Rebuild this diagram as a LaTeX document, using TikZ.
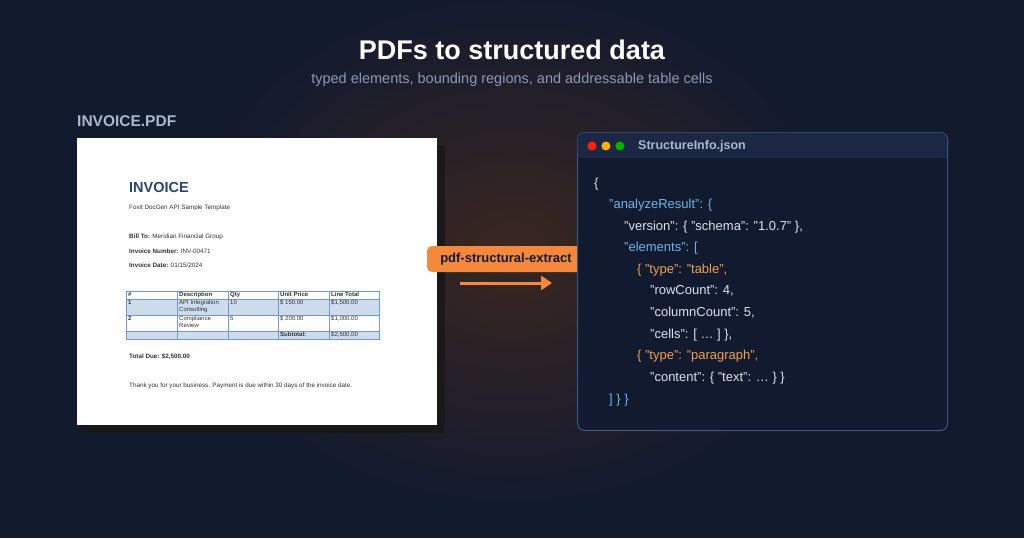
\documentclass[tikz,border=0pt]{standalone}
\usepackage{fontspec}
\setmainfont{Liberation Sans}
\usepackage{xcolor}
\usetikzlibrary{positioning, calc, arrows.meta}
\definecolor{bgDark}{HTML}{121A2E}
\definecolor{bgGlow}{HTML}{3A2620}
\definecolor{labelGray}{HTML}{A9B8D0}
\definecolor{subGray}{HTML}{8A9AB8}
\definecolor{invoiceBlue}{HTML}{2A4570}
\definecolor{cellBlue}{HTML}{CFDCEE}
\definecolor{gridBlue}{HTML}{6E9AD0}
\definecolor{extractOrange}{HTML}{F5883A}
\definecolor{panelFill}{HTML}{111A2E}
\definecolor{panelBar}{HTML}{1C2843}
\definecolor{panelBorder}{HTML}{3A5580}
\definecolor{keyBlue}{HTML}{6CB6E8}
\definecolor{codeLight}{HTML}{DDE3EC}
\definecolor{typeOrange}{HTML}{F0A050}
\definecolor{docText}{HTML}{333333}

\begin{document}
\begin{tikzpicture}[x=1pt, y=-1pt]
% style: codeLine
\tikzstyle{codeLine}=[anchor=west,inner sep=0pt,font=\fontsize{13}{15}\selectfont]
% style: docLine
\tikzstyle{docLine}=[anchor=west,inner sep=0pt,text=docText,font=\fontsize{6.3}{7}\selectfont]
% style: cellText
\tikzstyle{cellText}=[anchor=north west,inner sep=0pt,text=docText,align=left,font=\fontsize{6}{6.5}\selectfont]
% style: trafficDot
\tikzstyle{trafficDot}=[circle,minimum size=9pt,inner sep=0pt]

% background
\useasboundingbox (0,0) rectangle (1024,538);
\fill[bgDark] (0,0) rectangle (1024,538);
\begin{scope}
\clip (0,0) rectangle (1024,538);
\shade[inner color=bgGlow, outer color=bgDark] (512,250) ellipse (330 and 260);
\end{scope}

% node: title
\node[text=white,font=\bfseries\fontsize{27}{30}\selectfont] (title) at (512,50) {PDFs to structured data};
% node: subtitle
\node[text=subGray,font=\fontsize{14.5}{17}\selectfont] (subtitle) at (512,80) {typed elements, bounding regions, and addressable table cells};

% node group: invoice_group
% node: invoice_label
\node[anchor=west,inner sep=0pt,text=labelGray,font=\bfseries\fontsize{15.5}{18}\selectfont] (invoice_label) at (77,121) {INVOICE.PDF};
\fill[black!90] (85,146) rectangle (445,433);
% node: invoice_page
\node[fill=white,minimum width=360pt,minimum height=287pt,inner sep=0pt,anchor=north west] (invoice_page) at (77,138) {};
% node: invoice_heading
\node[anchor=west,inner sep=0pt,text=invoiceBlue,font=\bfseries\fontsize{14.5}{16}\selectfont] (invoice_heading) at (129,188) {INVOICE};
\node[docLine] (invoice_template) at (129,208) {Foxit DocGen API Sample Template};
\node[docLine] (invoice_bill) at (129,237) {\textbf{Bill To:} Meridian Financial Group};
\node[docLine] (invoice_number) at (129,251) {\textbf{Invoice Number:} INV-00471};
\node[docLine] (invoice_date) at (129,265) {\textbf{Invoice Date:} 01/15/2024};
% table
\fill[cellBlue] (126,299) rectangle (379,315);
\fill[cellBlue] (126,331) rectangle (379,339);
\draw[gridBlue,line width=0.6pt] (126,291) rectangle (379,339);
\draw[gridBlue,line width=1pt] (126,299) -- (379,299);
\foreach \y in {315,331} \draw[gridBlue,line width=0.6pt] (126,\y) -- (379,\y);
\foreach \x in {177,228,278,329} \draw[gridBlue,line width=0.6pt] (\x,291) -- (\x,339);
\node[cellText,font=\bfseries\fontsize{6}{6.5}\selectfont] (cell_h1) at (128,292) {\#};
\node[cellText,font=\bfseries\fontsize{6}{6.5}\selectfont] (cell_h2) at (179,292) {Description};
\node[cellText,font=\bfseries\fontsize{6}{6.5}\selectfont] (cell_h3) at (230,292) {Qty};
\node[cellText,font=\bfseries\fontsize{6}{6.5}\selectfont] (cell_h4) at (280,292) {Unit Price};
\node[cellText,font=\bfseries\fontsize{6}{6.5}\selectfont] (cell_h5) at (331,292) {Line Total};
\node[cellText,font=\bfseries\fontsize{6}{6.5}\selectfont] (cell_11) at (128,300) {1};
\node[cellText] (cell_12) at (179,300) {API Integration\\Consulting};
\node[cellText] (cell_13) at (230,300) {10};
\node[cellText] (cell_14) at (280,300) {\$ 150.00};
\node[cellText] (cell_15) at (331,300) {\$1,500.00};
\node[cellText,font=\bfseries\fontsize{6}{6.5}\selectfont] (cell_21) at (128,316) {2};
\node[cellText] (cell_22) at (179,316) {Compliance\\Review};
\node[cellText] (cell_23) at (230,316) {5};
\node[cellText] (cell_24) at (280,316) {\$ 200.00};
\node[cellText] (cell_25) at (331,316) {\$1,000.00};
\node[cellText,font=\bfseries\fontsize{6}{6.5}\selectfont] (cell_34) at (280,332) {Subtotal:};
\node[cellText] (cell_35) at (331,332) {\$2,500.00};
\node[docLine,font=\bfseries\fontsize{6.3}{7}\selectfont] (invoice_total) at (129,357) {Total Due: \$2,500.00};
\node[docLine] (invoice_thanks) at (129,386) {Thank you for your business. Payment is due within 30 days of the invoice date.};
% end of node group: invoice_group

% node group: extract_group
\coordinate (arrow_start) at (460,283);
\coordinate (arrow_end) at (552,283);
% node: extract_label
\node[fill=extractOrange,rounded corners=5pt,minimum width=158pt,minimum height=26pt,inner sep=0pt,text=bgDark,font=\bfseries\fontsize{13}{15}\selectfont] (extract_label) at (506,259) {pdf-structural-extract};
% end of node group: extract_group

% node group: json_group
% node: json_panel
\node[draw=panelBorder,fill=panelFill,line width=1pt,rounded corners=7pt,minimum width=370pt,minimum height=298pt,inner sep=0pt,anchor=north west] (json_panel) at (577,132) {};
\fill[panelBar,rounded corners=7pt] (577.5,132.5) rectangle (946.5,158);
\fill[panelBar] (577.5,150) rectangle (946.5,158);
\node[trafficDot,fill=red!75!orange] (dot_red) at (592,146) {};
\node[trafficDot,fill=orange!60!yellow,right=4.5pt of dot_red] (dot_yellow) {};
\node[trafficDot,fill=green!70!black,right=4.5pt of dot_yellow] (dot_green) {};
% node: json_title
\node[anchor=west,inner sep=0pt,text=labelGray,font=\bfseries\fontsize{12.5}{15}\selectfont] (json_title) at (638,146) {StructureInfo.json};
\node[codeLine,text=codeLight] (code_1) at (594,184) {\{};
\node[codeLine,text=keyBlue] (code_2) at (609,205) {"analyzeResult": \{};
\node[codeLine,text=codeLight] (code_3) at (624,227) {"version": \{ "schema": "1.0.7" \},};
\node[codeLine,text=keyBlue] (code_4) at (624,248) {"elements": [};
\node[codeLine,text=typeOrange] (code_5) at (637,270) {\{ "type": "table",};
\node[codeLine,text=codeLight] (code_6) at (650,291) {"rowCount": 4,};
\node[codeLine,text=codeLight] (code_7) at (650,313) {"columnCount": 5,};
\node[codeLine,text=codeLight] (code_8) at (650,335) {"cells": [ \dots\ ] \},};
\node[codeLine,text=typeOrange] (code_9) at (637,356) {\{ "type": "paragraph",};
\node[codeLine,text=codeLight] (code_10) at (650,378) {"content": \{ "text": \dots\ \} \}};
\node[codeLine,text=keyBlue] (code_11) at (609,400) {] \} \}};
% end of node group: json_group

% edge from arrow_start to arrow_end
\draw[-{Triangle[length=11pt,width=14pt]}, extractOrange, line width=3pt] (arrow_start) -- (arrow_end);

\end{tikzpicture}
\end{document}
